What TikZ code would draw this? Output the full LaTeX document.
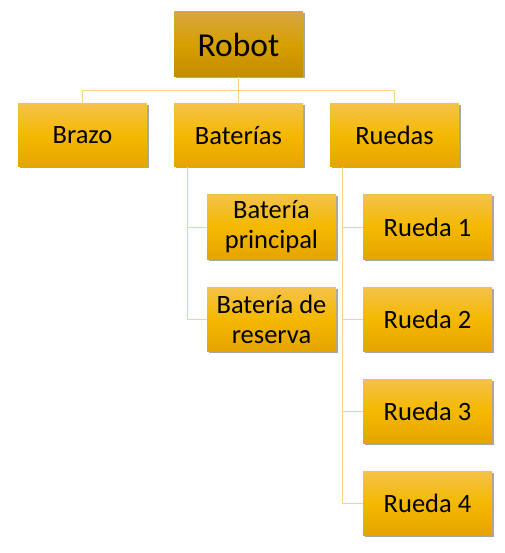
\documentclass[tikz,border=0pt]{standalone}
\usepackage{fontspec}
\setmainfont{Carlito}
\usetikzlibrary{shadows}
\definecolor{btop}{HTML}{F4C24A}
\definecolor{bmid}{HTML}{F5B800}
\definecolor{bbot}{HTML}{E6A400}
\definecolor{rtop}{HTML}{D8A640}
\definecolor{rmid}{HTML}{D6A000}
\definecolor{rbot}{HTML}{C48C00}
\definecolor{conn}{HTML}{F8D090}
\tikzset{
  box/.style={rectangle, minimum width=129pt, minimum height=64pt, inner sep=2pt,
    top color=btop, bottom color=bbot, middle color=bmid, align=center,
    font=\fontsize{26.5}{29}\selectfont, text=black,
    drop shadow={shadow xshift=1.5pt, shadow yshift=-1.5pt, fill=black, opacity=0.35}},
  rootbox/.style={box, minimum height=65pt, top color=rtop, bottom color=rbot, middle color=rmid,
    font=\fontsize{33.5}{36}\selectfont},
  conn/.style={draw=conn, line width=1pt}
}
\begin{document}
\begin{tikzpicture}[x=1pt,y=-1pt]
\useasboundingbox (0,0) rectangle (504,553);
\node[rootbox] (robot) at (238.5,44.5) {Robot};
\node[box, minimum height=63pt] (brazo) at (82.5,135.5) {Brazo};
\node[box, minimum height=63pt] (baterias) at (238.5,135.5) {Baterías};
\node[box, minimum height=63pt] (ruedas) at (394.5,135.5) {Ruedas};
\node[box] (bp) at (271.5,227) {Batería\\[1pt]principal};
\node[box] (br) at (271.5,319) {Batería de\\[1pt]reserva};
\node[box] (r1) at (427.5,227) {Rueda 1};
\node[box] (r2) at (427.5,319) {Rueda 2};
\node[box] (r3) at (427.5,411) {Rueda 3};
\node[box] (r4) at (427.5,503) {Rueda 4};
\draw[conn] (robot.south) -- ++(0,13) -| (brazo.north);
\draw[conn] (robot.south) -- ++(0,13) -| (ruedas.north);
\draw[conn] (robot.south) -- (baterias.north);
\coordinate (bl) at ([xshift=14pt]baterias.south west);
\coordinate (rl) at ([xshift=13pt]ruedas.south west);
\draw[conn] (bl) |- (bp.west);
\draw[conn] (bl) |- (br.west);
\draw[conn] (rl) |- (r1.west);
\draw[conn] (rl) |- (r2.west);
\draw[conn] (rl) |- (r3.west);
\draw[conn] (rl) |- (r4.west);
\end{tikzpicture}
\end{document}
